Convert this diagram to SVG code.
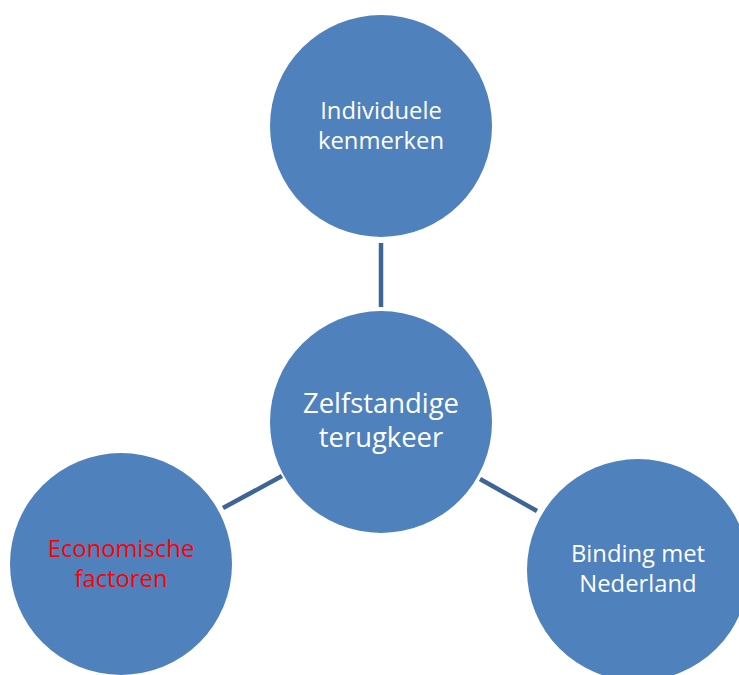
<svg xmlns="http://www.w3.org/2000/svg" width="739" height="675" viewBox="0 0 739 675">
<style>
.node{fill:#4F81BD}
.conn{stroke:#3D6595;stroke-width:4.5;fill:none}
text{font-family:"Open Sans","Noto Sans","Liberation Sans",sans-serif;text-anchor:middle;fill:#FFFFFF}
.s{font-size:23.8px}
.l{font-size:27.4px}
.red{fill:#FF0000}
</style>
<rect width="739" height="675" fill="#FFFFFF"/>
<g id="connectors">
<line class="conn" x1="381" y1="243" x2="381" y2="307"/>
<line class="conn" x1="223" y1="508" x2="282" y2="476"/>
<line class="conn" x1="480" y1="479" x2="537" y2="511"/>
</g>
<g id="node-individuele">
<circle class="node" cx="381" cy="126" r="111"/>
<text class="s" x="381" y="119">Individuele</text>
<text class="s" x="381" y="149">kenmerken</text>
</g>
<g id="node-zelfstandige">
<circle class="node" cx="381" cy="422" r="111"/>
<text class="l" x="381" y="413">Zelfstandige</text>
<text class="l" x="381" y="447">terugkeer</text>
</g>
<g id="node-economische">
<circle class="node" cx="121" cy="564" r="111"/>
<text class="s red" x="121" y="557">Economische</text>
<text class="s red" x="121" y="587">factoren</text>
</g>
<g id="node-binding">
<circle class="node" cx="638" cy="570" r="111"/>
<text class="s" x="638" y="562">Binding met</text>
<text class="s" x="638" y="592">Nederland</text>
</g>
</svg>
